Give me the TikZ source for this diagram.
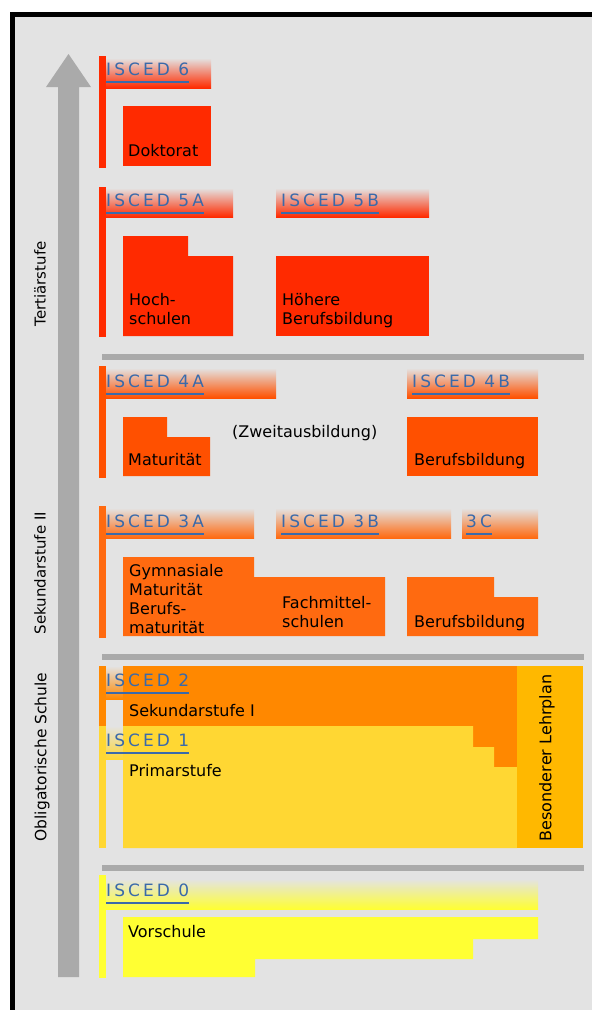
\documentclass[tikz,border=0pt]{standalone}
\usepackage{fontspec}
\setmainfont{DejaVu Sans}
\newfontfamily\headfont[LetterSpace=18]{DejaVu Sans}
\usepackage{tikz}
\usetikzlibrary{positioning}
\usepackage{xcolor}

\definecolor{bggray}{HTML}{E3E3E3}
\definecolor{bargray}{HTML}{AAAAAA}
\definecolor{iscedblue}{HTML}{3A6AAA}
\definecolor{lvlsix}{HTML}{FF2A00}
\definecolor{lvlfour}{HTML}{FF5000}
\definecolor{lvlthree}{HTML}{FF6A10}
\definecolor{lvltwo}{HTML}{FF8800}
\definecolor{lvlone}{HTML}{FFD733}
\definecolor{lvlspecial}{HTML}{FFB800}
\definecolor{lvlzero}{HTML}{FFFF33}

\begin{document}
\begin{tikzpicture}[%
    x=1pt, y=-1pt,
    every node/.style={%
      font=\fontsize{16}{19}\selectfont,
      text=black,
      inner sep=0pt,
      anchor=base west
    },
    head/.style={font=\headfont\fontsize{17}{19}\selectfont, text=iscedblue},
    stage/.style={font=\fontsize{15}{18}\selectfont, rotate=90, anchor=center},
    uline/.style={draw=iscedblue, line width=1.6pt},
    sep/.style={fill=bargray}
  ]

  \useasboundingbox (0,0) rectangle (592,1010);

  % Frame and background
  \fill[white] (0,0) rectangle (592,1010);
  \fill[black] (10,12) rectangle (592,1010);
  \fill[bggray] (15,17) rectangle (592,1010);

  % Upward arrow
  \fill[bargray] (58,977) -- (58,87) -- (46,87) -- (68.5,54) -- (91,87)
    -- (79,87) -- (79,977) -- cycle;

  % Separators
  \fill[sep] (102,354) rectangle (584,360);
  \fill[sep] (102,654) rectangle (584,660);
  \fill[sep] (102,865) rectangle (584,871);

  % ISCED 6
  \fill[lvlsix] (99,56) rectangle (106,168);
  \shade[top color=bggray, bottom color=lvlsix] (106,58) rectangle (211,88);
  \fill[lvlsix] (123,106) rectangle (211,166);

  % ISCED 5
  \fill[lvlsix] (99,187) rectangle (106,337);
  \shade[top color=bggray, bottom color=lvlsix] (106,188) rectangle (233,217);
  \shade[top color=bggray, bottom color=lvlsix] (276,188) rectangle (429,217);
  \fill[lvlsix] (123,236) -- (188,236) -- (188,256) -- (233,256)
    -- (233,336) -- (123,336) -- cycle;
  \fill[lvlsix] (276,256) rectangle (429,336);

  % ISCED 4
  \fill[lvlfour] (99,366) rectangle (106,478);
  \shade[top color=bggray, bottom color=lvlfour] (106,368) rectangle (276,398);
  \shade[top color=bggray, bottom color=lvlfour] (407,368) rectangle (538,398);
  \fill[lvlfour] (123,417) -- (167,417) -- (167,437) -- (210,437)
    -- (210,476) -- (123,476) -- cycle;
  \fill[lvlfour] (407,417) rectangle (538,476);

  % ISCED 3
  \fill[lvlthree] (99,506) rectangle (106,638);
  \shade[top color=bggray, bottom color=lvlthree] (106,508) rectangle (254,538);
  \shade[top color=bggray, bottom color=lvlthree] (276,508) rectangle (451,538);
  \shade[top color=bggray, bottom color=lvlthree] (462,508) rectangle (538,538);
  \fill[lvlthree] (123,557) -- (254,557) -- (254,577) -- (385,577)
    -- (385,636) -- (123,636) -- cycle;
  \fill[lvlthree] (407,577) -- (494,577) -- (494,597) -- (538,597)
    -- (538,636) -- (407,636) -- cycle;

  % ISCED 2 and 1
  \fill[lvltwo] (99,666) rectangle (106,726);
  \fill[lvlone] (99,726) rectangle (106,848);
  \shade[top color=bggray, bottom color=lvltwo] (106,666) rectangle (123,699);
  \shade[top color=bggray, bottom color=lvlone] (106,726) rectangle (123,759);
  \fill[lvltwo] (123,666) -- (517,666) -- (517,767) -- (494,767)
    -- (494,747) -- (473,747) -- (473,726) -- (123,726) -- cycle;
  \fill[lvlone] (123,726) -- (473,726) -- (473,747) -- (494,747)
    -- (494,767) -- (517,767) -- (517,848) -- (123,848) -- cycle;
  \fill[lvlspecial] (517,666) rectangle (583,848);

  % ISCED 0
  \fill[lvlzero] (99,875) rectangle (106,978);
  \shade[top color=bggray, bottom color=lvlzero] (106,879) rectangle (538,909);
  \fill[lvlzero] (123,917) -- (538,917) -- (538,939) -- (473,939)
    -- (473,959) -- (255,959) -- (255,977) -- (123,977) -- cycle;

  % Level headings
  \node[head] (i6) at (106,75) {ISCED 6};
  \node[head] (i5a) at (106,206) {ISCED 5A};
  \node[head] (i5b) at (281,206) {ISCED 5B};
  \node[head] (i4a) at (106,387) {ISCED 4A};
  \node[head] (i4b) at (412,387) {ISCED 4B};
  \node[head] (i3a) at (106,527) {ISCED 3A};
  \node[head] (i3b) at (281,527) {ISCED 3B};
  \node[head] (i3c) at (466,527) {3C};
  \node[head] (i2) at (106,686) {ISCED 2};
  \node[head] (i1) at (106,746) {ISCED 1};
  \node[head] (i0) at (106,896) {ISCED 0};

  \draw[uline] ([yshift=-7pt]i6.base west) -- ([yshift=-7pt]i6.base east);
  \draw[uline] ([yshift=-7pt]i5a.base west) -- ([yshift=-7pt]i5a.base east);
  \draw[uline] ([yshift=-7pt]i5b.base west) -- ([yshift=-7pt]i5b.base east);
  \draw[uline] ([yshift=-7pt]i4a.base west) -- ([yshift=-7pt]i4a.base east);
  \draw[uline] ([yshift=-7pt]i4b.base west) -- ([yshift=-7pt]i4b.base east);
  \draw[uline] ([yshift=-7pt]i3a.base west) -- ([yshift=-7pt]i3a.base east);
  \draw[uline] ([yshift=-7pt]i3b.base west) -- ([yshift=-7pt]i3b.base east);
  \draw[uline] ([yshift=-7pt]i3c.base west) -- ([yshift=-7pt]i3c.base east);
  \draw[uline] ([yshift=-7pt]i2.base west) -- ([yshift=-7pt]i2.base east);
  \draw[uline] ([yshift=-7pt]i1.base west) -- ([yshift=-7pt]i1.base east);
  \draw[uline] ([yshift=-7pt]i0.base west) -- ([yshift=-7pt]i0.base east);

  % Box labels
  \node (dok) at (128,156) {Doktorat};
  \node (hs1) at (129,305) {Hoch-};
  \node[below=19pt of hs1.base west, anchor=base west] (hs2) {schulen};
  \node (hb1) at (282,305) {Höhere};
  \node[below=19pt of hb1.base west, anchor=base west] (hb2) {Berufsbildung};
  \node (mat) at (128,465) {Maturität};
  \node (zwa) at (232,437) {(Zweitausbildung)};
  \node (bb4) at (414,465) {Berufsbildung};
  \node (gm1) at (129,576) {Gymnasiale};
  \node[below=19pt of gm1.base west, anchor=base west] (gm2) {Maturität};
  \node[below=19pt of gm2.base west, anchor=base west] (gm3) {Berufs-};
  \node[below=19pt of gm3.base west, anchor=base west] (gm4) {maturität};
  \node (fm1) at (282,608) {Fachmittel-};
  \node[below=19pt of fm1.base west, anchor=base west] (fm2) {schulen};
  \node (bb3) at (414,627) {Berufsbildung};
  \node (sek) at (129,716) {Sekundarstufe I};
  \node (pri) at (129,776) {Primarstufe};
  \node (vor) at (128,937) {Vorschule};
  \node[rotate=90, anchor=center] (bes) at (547,758) {Besonderer Lehrplan};

  % Stages along the arrow
  \node[stage] (ter) at (40,284) {Tertiärstufe};
  \node[stage] (sk2) at (40,573) {Sekundarstufe II};
  \node[stage, font=\fontsize{15.5}{18}\selectfont] (obl) at (42,757) {Obligatorische Schule};

\end{tikzpicture}
\end{document}
